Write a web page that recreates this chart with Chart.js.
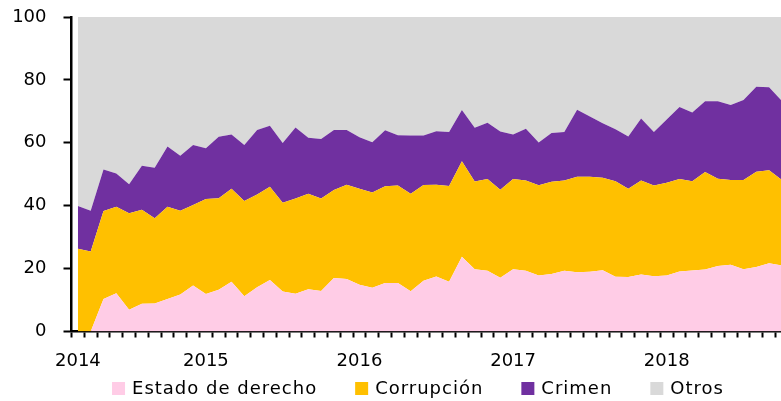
<!DOCTYPE html>
<html>
<head>
<meta charset="utf-8">
<script src="https://cdn.jsdelivr.net/npm/chart.js"></script>
<style>
  html, body { margin: 0; padding: 0; background: #fff; overflow: hidden; }
  #wrap { width: 781px; height: 401px; overflow: hidden; }
</style>
</head>
<body>
<div id="wrap"><canvas id="chart" width="800" height="401"></canvas></div>
<script>
// monthly categories, Mar 2014 - Oct 2018
const months = [
  '2014-03','2014-04','2014-05','2014-06','2014-07','2014-08','2014-09','2014-10','2014-11','2014-12',
  '2015-01','2015-02','2015-03','2015-04','2015-05','2015-06','2015-07','2015-08','2015-09','2015-10','2015-11','2015-12',
  '2016-01','2016-02','2016-03','2016-04','2016-05','2016-06','2016-07','2016-08','2016-09','2016-10','2016-11','2016-12',
  '2017-01','2017-02','2017-03','2017-04','2017-05','2017-06','2017-07','2017-08','2017-09','2017-10','2017-11','2017-12',
  '2018-01','2018-02','2018-03','2018-04','2018-05','2018-06','2018-07','2018-08','2018-09','2018-10'
];

// where the year labels sit on the x axis
const yearTickMonths = ['2014-03', '2015-01', '2016-01', '2017-01', '2018-01'];
const yearTickLabels = ['2014', '2015', '2016', '2017', '2018'];

// shares (%), stacked bottom to top
const estado = [
  0, 0, 10.3, 12.2, 6.9, 8.8, 8.9, 10.3, 11.8, 14.6,
  11.9, 13.3, 15.8, 11.2, 14.1, 16.4, 12.7, 12.0, 13.4, 12.9,
  17.0, 16.7, 14.9, 13.9, 15.4, 15.4, 12.8, 16.1, 17.5, 15.8,
  23.8, 19.8, 19.3, 17.1, 19.8, 19.3, 17.8, 18.3, 19.3, 18.8,
  19.0, 19.5, 17.4, 17.3, 18.1, 17.6, 17.8, 19.1, 19.4, 19.7,
  20.8, 21.2, 19.8, 20.5, 21.7, 21.0
];
const corrupcion = [
  26.3, 25.4, 28.0, 27.5, 30.7, 29.9, 27.1, 29.4, 26.6, 25.6,
  30.2, 29.1, 29.6, 30.3, 29.5, 29.6, 28.2, 30.3, 30.4, 29.4,
  28.0, 30.0, 30.5, 30.3, 30.8, 31.0, 31.0, 30.5, 29.2, 30.5,
  30.3, 27.9, 29.2, 28.0, 28.7, 28.7, 28.7, 29.3, 28.7, 30.4,
  30.2, 29.4, 30.4, 28.1, 29.9, 28.8, 29.5, 29.4, 28.4, 31.0,
  27.8, 27.0, 28.4, 30.3, 29.6, 27.2
];
const crimen = [
  13.6, 13.0, 13.2, 10.5, 9.2, 14.0, 16.1, 19.1, 17.5, 19.1,
  16.2, 19.5, 17.2, 17.8, 20.5, 19.4, 19.0, 22.6, 17.8, 18.9,
  19.1, 17.4, 16.4, 16.0, 17.8, 16.0, 18.5, 15.7, 17.0, 17.1,
  16.3, 17.1, 17.9, 18.5, 14.1, 16.5, 13.6, 15.5, 15.4, 21.3,
  19.2, 17.3, 16.5, 16.6, 19.7, 17.0, 20.1, 22.9, 21.8, 22.5,
  24.6, 23.8, 25.4, 27.0, 26.4, 25.1
];
const otros = [
  60.1, 61.6, 48.5, 49.8, 53.2, 47.3, 47.9, 41.2, 44.1, 40.7,
  41.7, 38.1, 37.4, 40.7, 35.9, 34.6, 40.1, 35.1, 38.4, 38.8,
  35.9, 35.9, 38.2, 39.8, 36.0, 37.6, 37.7, 37.7, 36.3, 36.6,
  29.6, 35.2, 33.6, 36.4, 37.4, 35.5, 39.9, 36.9, 36.6, 29.5,
  31.6, 33.8, 35.7, 38.0, 32.3, 36.6, 32.6, 28.6, 30.4, 26.8,
  26.8, 28.0, 26.4, 22.2, 22.3, 26.7
];

const seriesNames = ['Estado de derecho', 'Corrupción', 'Crimen', 'Otros'];
const seriesColors = ['#FFCCE6', '#FFC000', '#7030A0', '#D9D9D9'];

const FONT = { family: '"DejaVu Sans", sans-serif', size: 18 };

// legend drawn under the axis, one row, centred
const bottomLegend = {
  id: 'bottomLegend',
  afterDraw(chart) {
    const ctx = chart.ctx;
    const box = 13, textGap = 7, itemGap = 38, cy = 388.5, cx = 418;
    ctx.save();
    ctx.font = FONT.size + 'px ' + FONT.family;
    ctx.letterSpacing = '1px';
    ctx.textBaseline = 'middle';
    ctx.textAlign = 'left';
    const items = chart.data.datasets.map(ds => ({
      text: ds.label,
      color: ds.backgroundColor,
      w: box + textGap + ctx.measureText(ds.label).width
    }));
    const total = items.reduce((s, it) => s + it.w, 0) + itemGap * (items.length - 1);
    let x = cx - total / 2;
    items.forEach(it => {
      ctx.fillStyle = it.color;
      ctx.fillRect(x, cy - box / 2, box, box);
      ctx.fillStyle = '#000';
      ctx.fillText(it.text, x + box + textGap, cy + 1);
      x += it.w + itemGap;
    });
    ctx.restore();
  }
};

const seriesData = [estado, corrupcion, crimen, otros];

new Chart(document.getElementById('chart'), {
  type: 'line',
  data: {
    labels: months,
    datasets: seriesNames.map((name, i) => ({
      label: name,
      data: seriesData[i],
      backgroundColor: seriesColors[i],
      borderColor: seriesColors[i],
      borderWidth: 0,
      pointRadius: 0,
      tension: 0,
      fill: i === 0 ? 'origin' : '-1'
    }))
  },
  options: {
    responsive: false,
    animation: false,
    events: [],
    layout: { padding: { top: 17, left: 0, right: 11.7, bottom: 29.5 } },
    plugins: {
      legend: { display: false },
      tooltip: { enabled: false }
    },
    scales: {
      x: {
        offset: true,
        grid: {
          offset: true,
          drawOnChartArea: false,
          tickLength: 6,
          tickWidth: 2,
          tickColor: '#000'
        },
        border: { color: '#000', width: 2.5 },
        ticks: {
          autoSkip: false,
          maxRotation: 0,
          minRotation: 0,
          padding: 13,
          color: '#000',
          font: FONT,
          callback: function (value, index) {
            const k = yearTickMonths.indexOf(months[index]);
            return k >= 0 ? yearTickLabels[k] : '';
          }
        },
        afterFit(scale) { scale.height = 40; }
      },
      y: {
        stacked: true,
        min: 0,
        max: 100,
        grid: {
          drawOnChartArea: false,
          tickLength: 8,
          tickWidth: 2,
          tickColor: '#000'
        },
        border: { color: '#000', width: 2.5 },
        ticks: {
          stepSize: 20,
          padding: 17,
          color: '#000',
          font: FONT
        },
        afterFit(scale) {
          scale.width = 71.5;
          scale.paddingTop = 10;
          scale.paddingBottom = 10;
        }
      }
    }
  },
  plugins: [bottomLegend]
});
</script>
</body>
</html>
